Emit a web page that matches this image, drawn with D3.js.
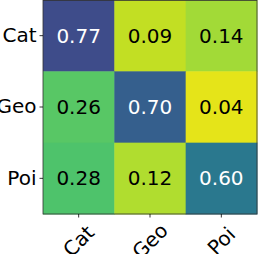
<!DOCTYPE html>
<html>
<head>
<meta charset="utf-8">
<script src="https://cdn.jsdelivr.net/npm/d3@7"></script>
<style>
  body { margin: 0; background: #fff; }
  svg { display: block; }
  text { font-family: "DejaVu Sans", sans-serif; }
</style>
</head>
<body>
<div id="chart"></div>
<script>
const rowLabels = ["Cat", "Geo", "Poi"];
const colLabels = ["Cat", "Geo", "Poi"];
const catRow = [0.77, 0.09, 0.14];
const geoRow = [0.26, 0.70, 0.04];
const poiRow = [0.28, 0.12, 0.60];
const rows = [catRow, geoRow, poiRow];

const width = 258;
const height = 254;
const margin = { top: 0, right: 1, bottom: 40, left: 43 };
const graphWidth = width - margin.left - margin.right;
const graphHeight = height - margin.top - margin.bottom;

const svg = d3.select("#chart").append("svg")
  .attr("width", width)
  .attr("height", height);

const graph = svg.append("g")
  .attr("transform", `translate(${margin.left}, ${margin.top})`);

const x = d3.scaleBand().domain(colLabels).range([0, graphWidth]);
const y = d3.scaleBand().domain(rowLabels).range([0, graphHeight]);
const color = d3.scaleSequential(t => d3.interpolateViridis(1 - t)).domain([0, 1]);

const cells = [];
rows.forEach((r, i) => r.forEach((v, j) => cells.push({ row: rowLabels[i], col: colLabels[j], v })));

graph.selectAll("rect.cell").data(cells).enter().append("rect")
  .attr("class", "cell")
  .attr("x", d => x(d.col))
  .attr("y", d => y(d.row))
  .attr("width", x.bandwidth() + 0.5)
  .attr("height", y.bandwidth() + 0.5)
  .attr("fill", d => color(d.v));

graph.selectAll("text.val").data(cells).enter().append("text")
  .attr("class", "val")
  .attr("x", d => x(d.col) + x.bandwidth() / 2)
  .attr("y", d => y(d.row) + y.bandwidth() / 2)
  .attr("text-anchor", "middle")
  .attr("dominant-baseline", "central")
  .attr("font-size", 20)
  .attr("fill", d => d.v > 0.5 ? "#fff" : "#000")
  .text(d => d.v.toFixed(2));

graph.append("rect")
  .attr("x", 0).attr("y", 0.4)
  .attr("width", graphWidth).attr("height", graphHeight - 0.4)
  .attr("fill", "none")
  .attr("stroke", "#333")
  .attr("stroke-width", 0.8);

const gY = graph.append("g")
  .call(d3.axisLeft(y).tickSize(3.5).tickPadding(3));
const gX = graph.append("g")
  .attr("transform", `translate(0, ${graphHeight})`)
  .call(d3.axisBottom(x).tickSize(3.5));

[gX, gY].forEach(g => {
  g.select(".domain").remove();
  g.selectAll("line").attr("stroke", "#000").attr("stroke-width", 0.8);
  g.selectAll("text").style("font-size", "20px").attr("fill", "#000");
});

gX.selectAll("text")
  .attr("y", 0)
  .attr("dy", null)
  .attr("text-anchor", "middle")
  .attr("dominant-baseline", "central")
  .attr("transform", "translate(0, 27) rotate(-45)");
</script>
</body>
</html>
